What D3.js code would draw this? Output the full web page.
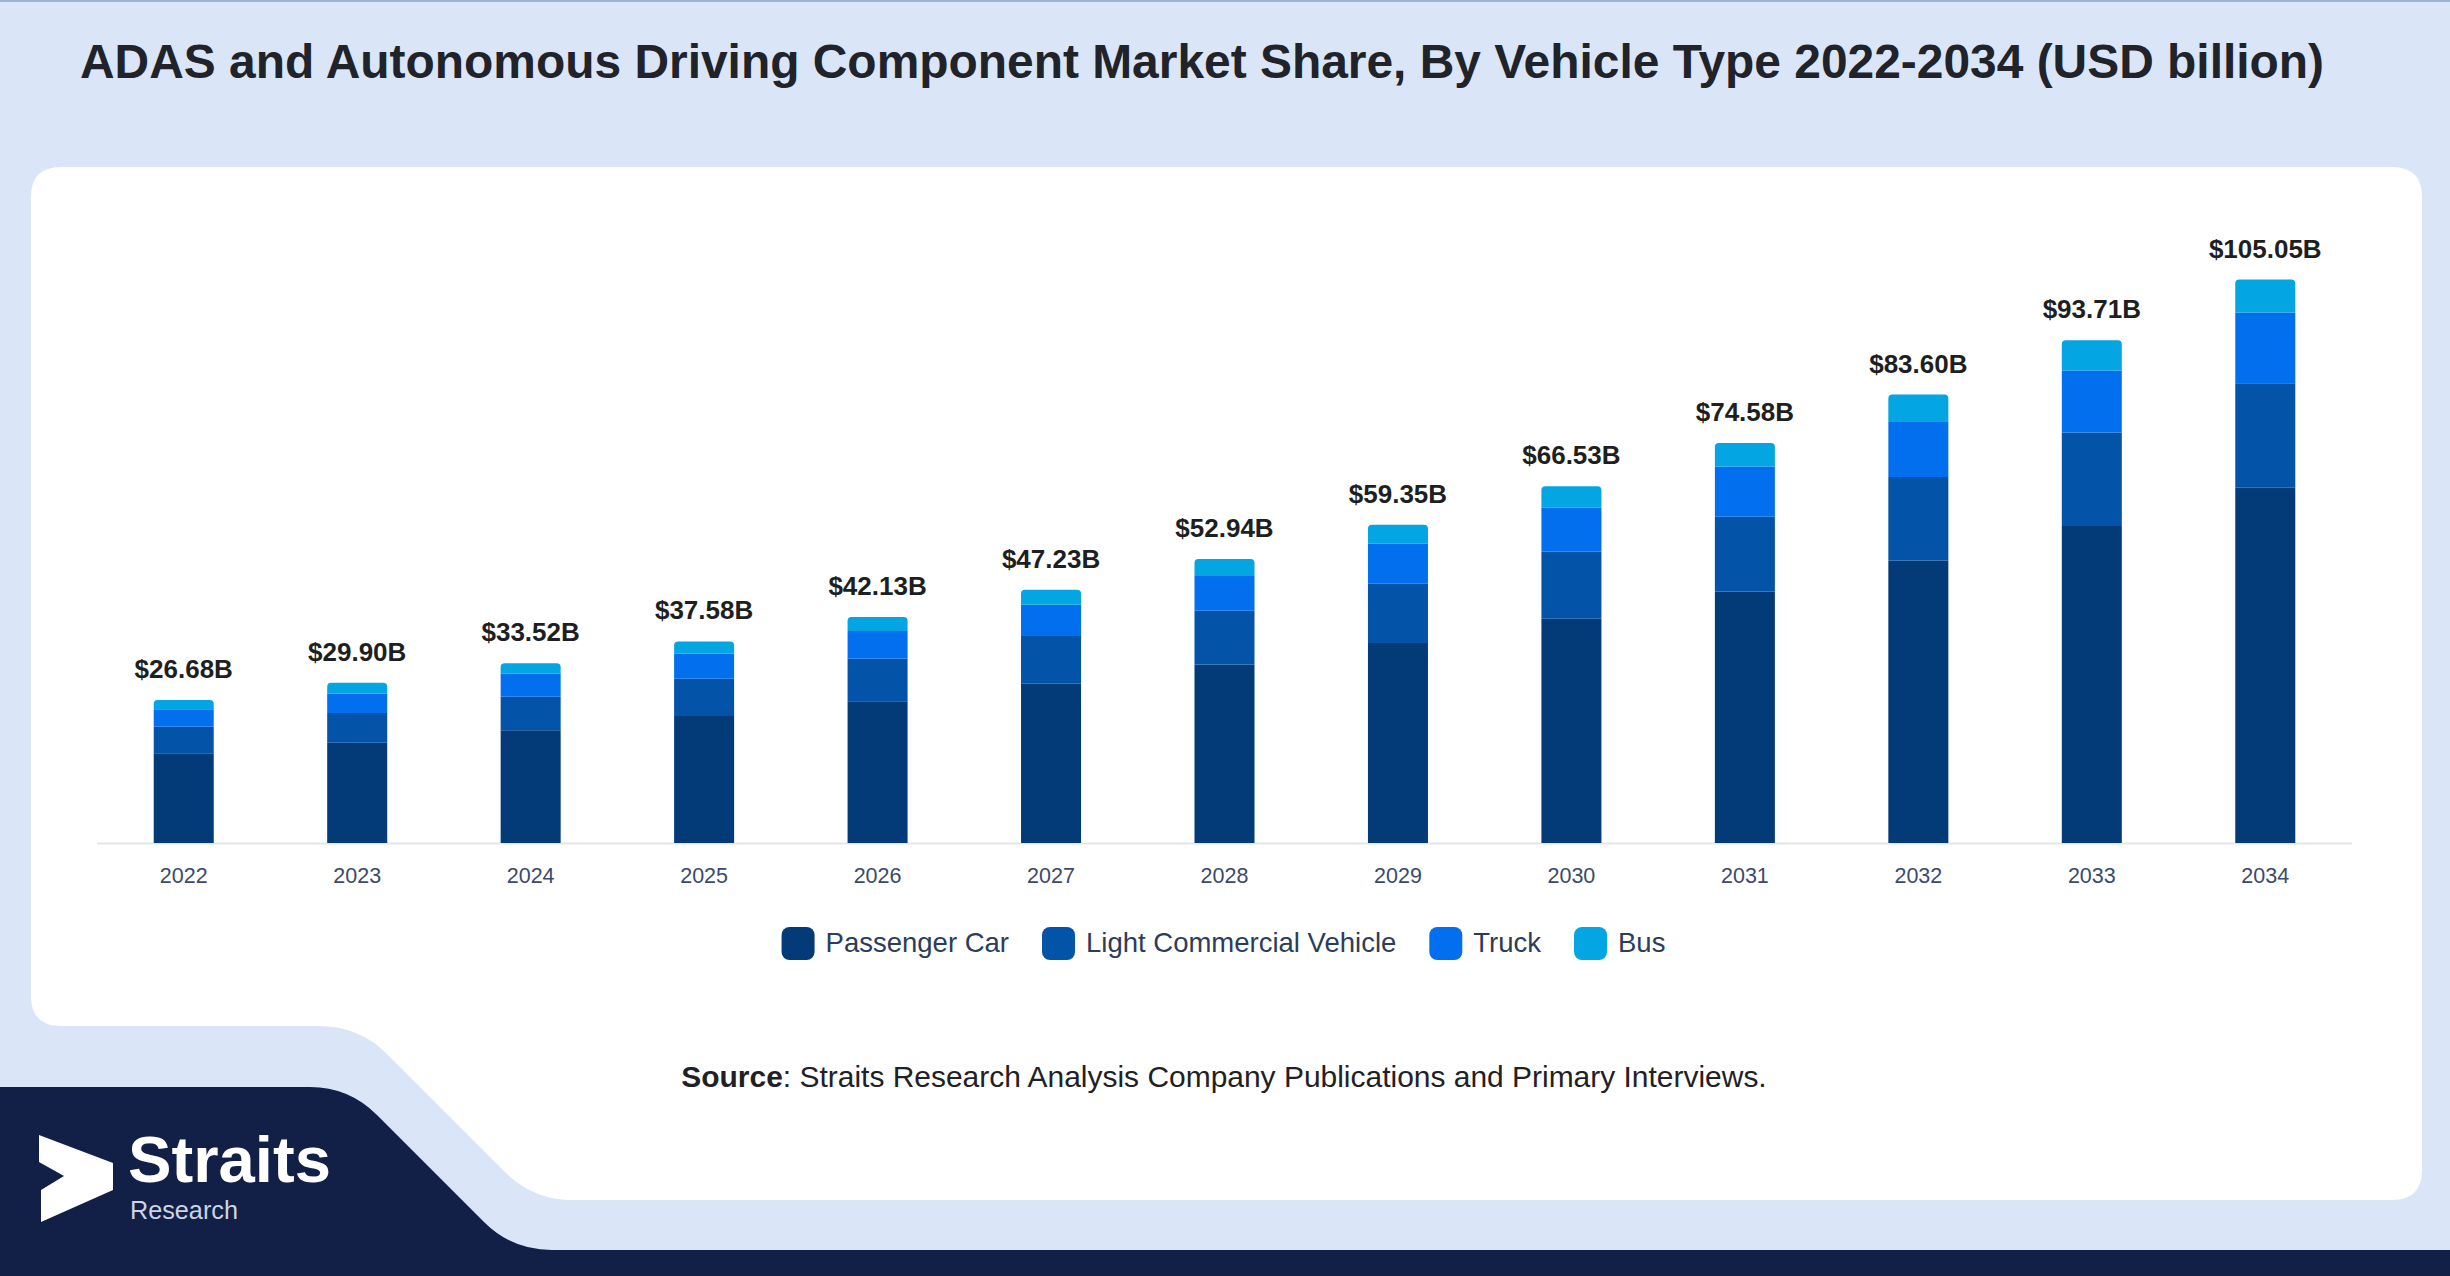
<!DOCTYPE html>
<html>
<head>
<meta charset="utf-8">
<script src="https://cdn.jsdelivr.net/npm/d3@7"></script>
<style>
  html, body { margin: 0; padding: 0; background: #dae6f8; }
  svg { display: block; }
</style>
</head>
<body>
<svg id="chart" width="2450" height="1276"></svg>
<script>
// ---- data (USD billion) ----
const years = ['2022','2023','2024','2025','2026','2027','2028','2029','2030','2031','2032','2033','2034'];
const passengerCar = [16.75, 18.69, 21.03, 23.68, 26.41, 29.71, 33.29, 37.28, 41.82, 46.90, 52.67, 59.11, 66.24];
const lightCommercial = [4.93, 5.55, 6.25, 6.94, 7.96, 8.87, 10.00, 11.07, 12.54, 13.92, 15.59, 17.41, 19.48];
const truck = [3.27, 3.63, 4.27, 4.72, 5.14, 5.85, 6.48, 7.46, 8.14, 9.36, 10.24, 11.56, 13.17];
const bus = [1.73, 2.03, 1.97, 2.24, 2.62, 2.80, 3.17, 3.54, 4.03, 4.40, 5.10, 5.63, 6.16];
const totals = [26.68, 29.90, 33.52, 37.58, 42.13, 47.23, 52.94, 59.35, 66.53, 74.58, 83.60, 93.71, 105.05];
const seriesNames = ['Passenger Car', 'Light Commercial Vehicle', 'Truck', 'Bus'];
const seriesColors = ['#033b79', '#0353a8', '#0270ee', '#03a6e2'];

const svg = d3.select('#chart');
const W = 2450, H = 1276;
const FONT = '"Liberation Sans", Arial, sans-serif';

// fit a text element to a target width by adjusting font-size
function fitText(sel, target){
  const w = sel.node().getComputedTextLength();
  const fs = parseFloat(sel.attr('font-size'));
  sel.attr('font-size', fs * target / w);
}

// ---- background ----
svg.append('rect').attr('width', W).attr('height', H).attr('fill', '#dae6f8');
svg.append('line').attr('x1', 0).attr('x2', W).attr('y1', 1).attr('y2', 1)
  .attr('stroke', '#9fb0d0').attr('stroke-width', 2);

// white card with the cut lower-left corner
svg.append('path')
  .attr('d', 'M61,167 H2392 Q2422,167 2422,197 V1170 Q2422,1200 2392,1200 H573 Q533,1200 505,1172 L387,1054 Q359,1026 319,1026 H61 Q31,1026 31,996 V197 Q31,167 61,167 Z')
  .attr('fill', '#ffffff');

// dark navy footer shape
svg.append('path')
  .attr('d', 'M0,1087 H310 Q349,1087 377,1115 L484,1222 Q512,1250 552,1250 H2450 V1276 H0 Z')
  .attr('fill', '#121f47');

// ---- title ----
const title = svg.append('text')
  .attr('x', 80).attr('y', 78)
  .attr('font-family', FONT).attr('font-weight', 'bold').attr('font-size', 46)
  .attr('fill', '#202329')
  .text('ADAS and Autonomous Driving Component Market Share, By Vehicle Type 2022-2034 (USD billion)');
fitText(title, 2245);

// ---- scales ----
const x = d3.scaleBand().domain(years).range([97, 2352]).paddingInner(0.654).paddingOuter(0.327);
const y = d3.scaleLinear().domain([0, 110]).range([843, 253]);

const rows = years.map((yr, i) => ({
  year: yr,
  'Passenger Car': passengerCar[i],
  'Light Commercial Vehicle': lightCommercial[i],
  'Truck': truck[i],
  'Bus': bus[i],
  total: totals[i]
}));
const stacked = d3.stack().keys(seriesNames)(rows);
const color = d3.scaleOrdinal().domain(seriesNames).range(seriesColors);

// axis line
svg.append('line')
  .attr('x1', 97).attr('x2', 2352).attr('y1', 843.5).attr('y2', 843.5)
  .attr('stroke', '#e3e5ea').attr('stroke-width', 2);

// bars
const gBars = svg.append('g');
const r = 4;
stacked.forEach((layer, li) => {
  const top = li === stacked.length - 1;
  gBars.append('g').attr('fill', color(layer.key))
    .selectAll('path').data(layer).join('path')
    .attr('d', d => {
      const x0 = x(d.data.year), x1 = x0 + x.bandwidth();
      const y0 = y(d[0]), y1 = y(d[1]);
      if (!top) return `M${x0},${y0}V${y1}H${x1}V${y0}Z`;
      return `M${x0},${y0}V${y1 + r}Q${x0},${y1} ${x0 + r},${y1}H${x1 - r}Q${x1},${y1} ${x1},${y1 + r}V${y0}Z`;
    });
});

// total labels
svg.append('g').selectAll('text').data(rows).join('text')
  .attr('x', d => x(d.year) + x.bandwidth() / 2)
  .attr('y', d => y(d.total) - 22)
  .attr('text-anchor', 'middle')
  .attr('font-family', FONT).attr('font-weight', 'bold').attr('font-size', 26)
  .attr('fill', '#1e1f22')
  .text(d => '$' + d.total.toFixed(2) + 'B');

// x axis labels
const xAxis = svg.append('g').attr('transform', 'translate(0,843)')
  .call(d3.axisBottom(x).tickSize(0).tickPadding(40));
xAxis.select('.domain').remove();
xAxis.selectAll('text')
  .attr('font-family', FONT).attr('font-size', 21.5).attr('fill', '#3b4a6b')
  .attr('dy', null).attr('y', 40);

// ---- legend ----
const legend = svg.append('g');
let lx = 0;
seriesNames.forEach((name, i) => {
  const g = legend.append('g').attr('transform', `translate(${lx},0)`);
  g.append('rect').attr('x', 0).attr('y', 927).attr('width', 33).attr('height', 33)
    .attr('rx', 8).attr('fill', seriesColors[i]);
  const t = g.append('text').attr('x', 44).attr('y', 952)
    .attr('font-family', FONT).attr('font-size', 27.5).attr('fill', '#2c3c5c')
    .text(name);
  lx += 44 + t.node().getComputedTextLength() + 33;
});
const legendW = lx - 33;
legend.attr('transform', `translate(${1223.5 - legendW / 2},0)`);

// ---- source ----
const src = svg.append('text')
  .attr('x', 1224).attr('y', 1087).attr('text-anchor', 'middle')
  .attr('font-family', FONT).attr('font-size', 28).attr('fill', '#1f2125');
src.append('tspan').attr('font-weight', 'bold').text('Source');
src.append('tspan').text(': Straits Research Analysis Company Publications and Primary Interviews.');
fitText(src, 1086);

// ---- logo ----
svg.append('polygon')
  .attr('points', '39,1135 113,1163 113,1190 41,1222 41,1190 64,1176 39,1162')
  .attr('fill', '#ffffff');
const logo = svg.append('text')
  .attr('x', 128).attr('y', 1182)
  .attr('font-family', FONT).attr('font-weight', 'bold').attr('font-size', 60)
  .attr('fill', '#ffffff').text('Straits');
fitText(logo, 203);
const sub = svg.append('text')
  .attr('x', 130).attr('y', 1219)
  .attr('font-family', FONT).attr('font-size', 24)
  .attr('fill', '#cdd4e4').text('Research');
fitText(sub, 108);
</script>
</body>
</html>
